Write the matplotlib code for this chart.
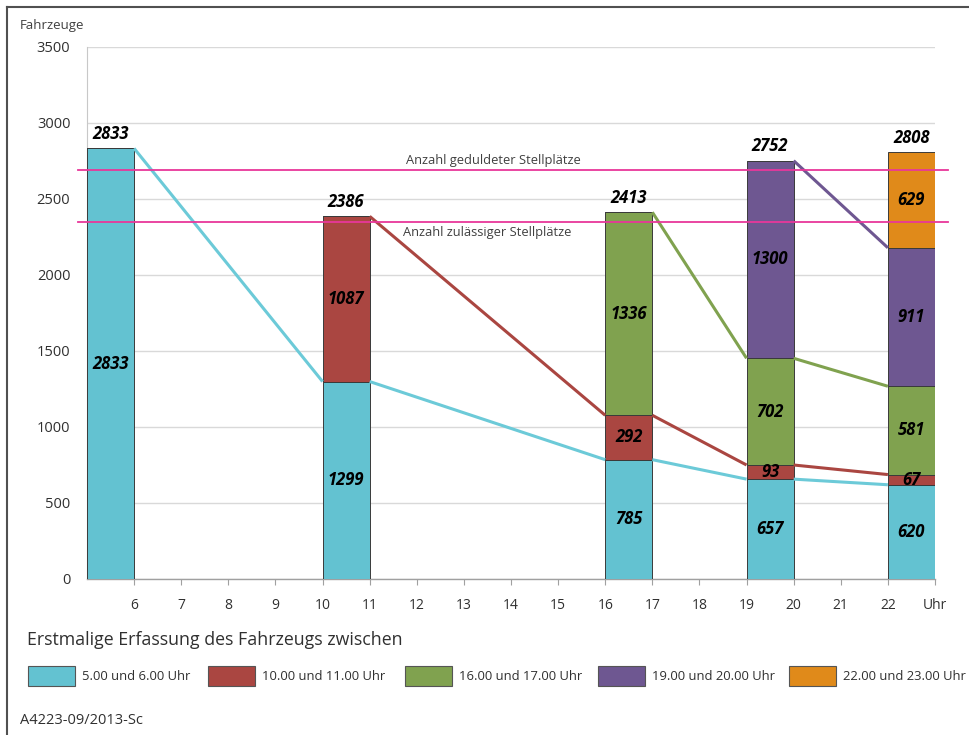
import matplotlib
matplotlib.use("Agg")
import matplotlib.pyplot as plt
from matplotlib.patches import Rectangle
from matplotlib.lines import Line2D
import numpy as np

plt.rcParams['font.family'] = ['Open Sans', 'DejaVu Sans']

# ---- data ----
bar_starts = [5, 10, 16, 19, 22]          # hour at which each count starts
series_names = ["5.00 und 6.00 Uhr", "10.00 und 11.00 Uhr", "16.00 und 17.00 Uhr",
                "19.00 und 20.00 Uhr", "22.00 und 23.00 Uhr"]
# values per cohort at each count (None = cohort not yet present)
cohort_5 = [2833, 1299, 785, 657, 620]
cohort_10 = [None, 1087, 292, 93, 67]
cohort_16 = [None, None, 1336, 702, 581]
cohort_19 = [None, None, None, 1300, 911]
cohort_22 = [None, None, None, None, 629]
totals = [2833, 2386, 2413, 2752, 2808]
geduldet = 2690
zulaessig = 2350
xtick_vals = list(range(6, 24))
xtick_labels = [str(v) for v in range(6, 23)] + ["Uhr"]
colors = ["#63C2D1", "#AA4641", "#80A24F", "#6E5791", "#E08A1A"]
line_colors = ["#6CCAD8", "#AA4641", "#80A24F", "#6E5791", "#E08A1A"]

cohorts = [cohort_5, cohort_10, cohort_16, cohort_19, cohort_22]

W, H = 969, 735
fig = plt.figure(figsize=(W / 100, H / 100), dpi=100)
ax = fig.add_axes([87 / W, 1 - 579 / H, (935 - 87) / W, (579 - 47) / H])

ax.set_xlim(5, 23)
ax.set_ylim(0, 3500)

# bars
n = len(bar_starts)
bottoms = np.zeros(n)
tops = []
for ci, vals in enumerate(cohorts):
    arr = np.array([v if v is not None else 0 for v in vals], dtype=float)
    ax.bar(bar_starts, arr, width=1.0, bottom=bottoms, align='edge',
           color=colors[ci], edgecolor="#3a3a3a", linewidth=0.7, zorder=3)
    for j, v in enumerate(vals):
        if v is not None:
            ax.text(bar_starts[j] + 0.5, bottoms[j] + v / 2, str(v),
                    ha='center', va='center', fontsize=12, fontweight='bold',
                    fontstyle='italic', color='black', zorder=5)
    bottoms = bottoms + arr
    tops.append(bottoms.copy())

# connecting lines: right edge of one bar to left edge of the next
for ci, vals in enumerate(cohorts):
    idx = [j for j, v in enumerate(vals) if v is not None]
    for a, b in zip(idx[:-1], idx[1:]):
        ax.plot([bar_starts[a] + 1, bar_starts[b]], [tops[ci][a], tops[ci][b]],
                color=line_colors[ci], lw=2.2, zorder=4, solid_capstyle='butt')

# totals above bars
for j, t in enumerate(totals):
    ax.annotate(str(t), (bar_starts[j] + 0.5, t), xytext=(0, 4), textcoords='offset points',
                ha='center', va='bottom', fontsize=12, fontweight='bold',
                fontstyle='italic', color='black', zorder=6)

# reference lines
for val in (geduldet, zulaessig):
    ax.plot([4.81, 23.28], [val, val], color="#E8379A", lw=1.3, clip_on=False, zorder=4)
ax.text(13.62, geduldet + 22, "Anzahl geduldeter Stellplätze", ha='center', va='bottom',
        fontsize=9.3, color="#404040", zorder=6)
ax.text(11.7, zulaessig - 30, "Anzahl zulässiger Stellplätze", ha='left', va='top',
        fontsize=9.3, color="#404040", zorder=6)

# axes styling
ax.set_yticks(np.arange(0, 3501, 500))
ax.yaxis.grid(True, color="#d9d9d9", lw=1.0, zorder=0)
ax.set_axisbelow(True)
ax.set_xticks(xtick_vals)
ax.set_xticklabels(xtick_labels)
for s in ('top', 'right'):
    ax.spines[s].set_visible(False)
ax.spines['left'].set_color("#c8c8c8")
ax.spines['bottom'].set_color("#a0a0a0")
ax.spines['bottom'].set_linewidth(1.0)
ax.tick_params(axis='x', length=4, color="#a0a0a0", pad=10, labelsize=10, labelcolor="#303030")
ax.tick_params(axis='y', length=0, pad=12, labelsize=10.5, labelcolor="#303030")

fig.text(20 / W, 1 - 25 / H, "Fahrzeuge", ha='left', va='center', fontsize=9.5, color="#404040")

# legend
fig.text(27 / W, 1 - 640 / H, "Erstmalige Erfassung des Fahrzeugs zwischen",
         ha='left', va='center', fontsize=12.8, color="#303030")
patch_x = [28, 208, 405, 598, 789]
for i, name in enumerate(series_names):
    px = patch_x[i]
    fig.add_artist(Rectangle((px / W, 1 - 686 / H), 47 / W, 20 / H, transform=fig.transFigure,
                             facecolor=colors[i], edgecolor="#555555", linewidth=0.8))
    fig.text((px + 54) / W, 1 - 676 / H, name, ha='left', va='center', fontsize=9.4,
             color="#303030")

fig.text(20 / W, 1 - 720 / H, "A4223-09/2013-Sc", ha='left', va='center', fontsize=10.5,
         color="#303030")

# frame border
fig.add_artist(Line2D([7 / W, 1], [1 - 7 / H, 1 - 7 / H], transform=fig.transFigure,
                      color="#505050", lw=1.5))
fig.add_artist(Line2D([7 / W, 7 / W], [0, 1 - 7 / H], transform=fig.transFigure,
                      color="#505050", lw=1.5))

fig.savefig("out.png", dpi=100, facecolor='white')
